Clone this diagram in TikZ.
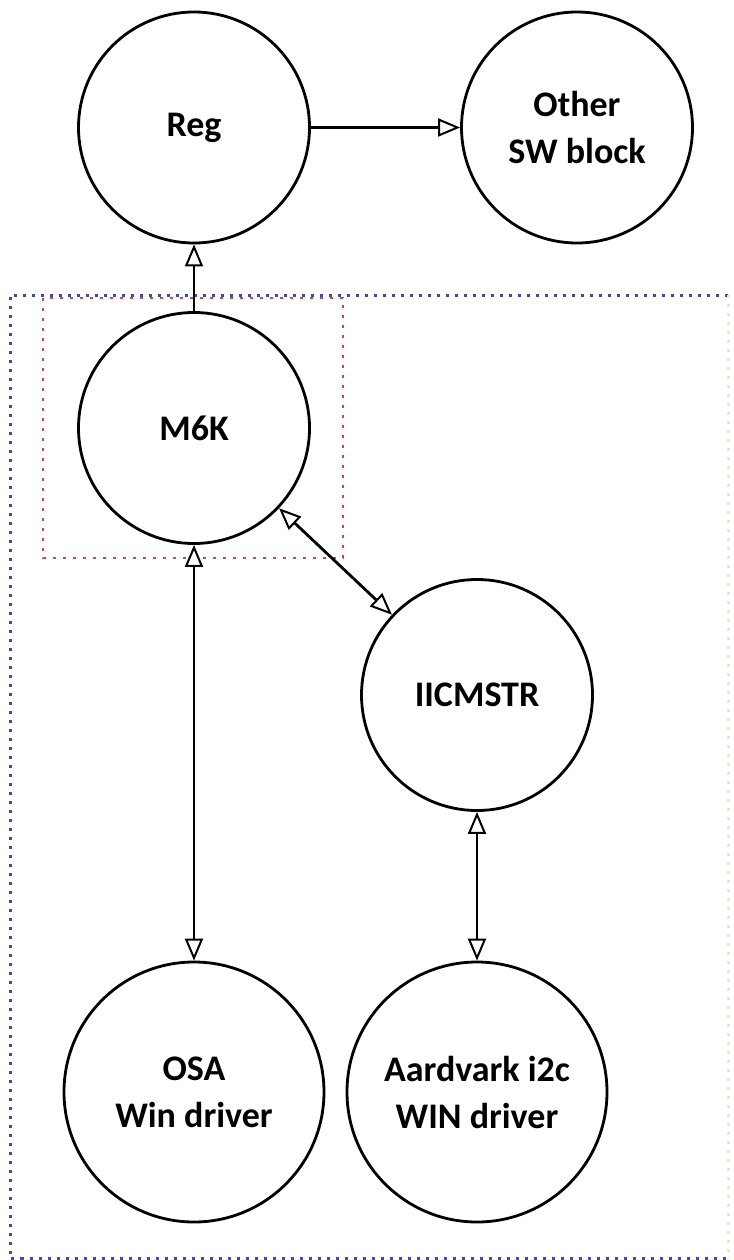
\documentclass[tikz,border=0pt]{standalone}
\usepackage{fontspec}
\setmainfont{Carlito}
\usetikzlibrary{arrows.meta}
\definecolor{frameblue}{RGB}{72,72,160}
\definecolor{framered}{RGB}{200,70,100}
\definecolor{framepale}{RGB}{236,232,200}
\begin{document}
\begin{tikzpicture}[x=1pt,y=-1pt,
  block/.style={circle, draw=black, line width=2.8pt, fill=white, inner sep=0pt,
    align=center, font=\fontsize{36}{47}\selectfont\bfseries},
  unit/.style={block, minimum size=231pt},
  driver/.style={block, minimum size=260pt},
  link/.style={draw=black, line width=2.8pt},
  >={Triangle[length=22pt,width=18pt,fill=white,line width=2pt]},
  outerframe/.style={frameblue, line width=3pt, dash pattern=on 3pt off 6pt},
  innerframe/.style={framered, line width=2.6pt, dash pattern=on 2.6pt off 7.4pt}
]
\useasboundingbox (0,0) rectangle (733,1260);

% dotted group frames
\draw[outerframe] (728,295) -- (10,295) -- (10,1258.5) -- (728,1258.5);
\draw[outerframe, framepale] (728,295) -- (728,1258.5);
\draw[innerframe] (43,298) rectangle (343,558);

% software blocks
\node[unit] (reg) at (194,127.5) {Reg};
\node[unit] (other) at (577,127.5) {Other\\SW block};
\node[unit] (m6k) at (194,428) {M6K};
\node[unit] (iic) at (477,695) {IICMSTR};
\node[driver] (osa) at (194,1092) {OSA\\Win driver};
\node[driver] (aard) at (477,1092) {Aardvark i2c\\WIN driver};

% connections
\draw[link,->] (reg.east) -- (other.west);
\draw[link,->] (m6k.north) -- (reg.south);
\draw[link,<->] (m6k) -- (iic);
\draw[link,<->] (m6k.south) -- (osa.north);
\draw[link,<->] (iic.south) -- (aard.north);
\end{tikzpicture}
\end{document}
